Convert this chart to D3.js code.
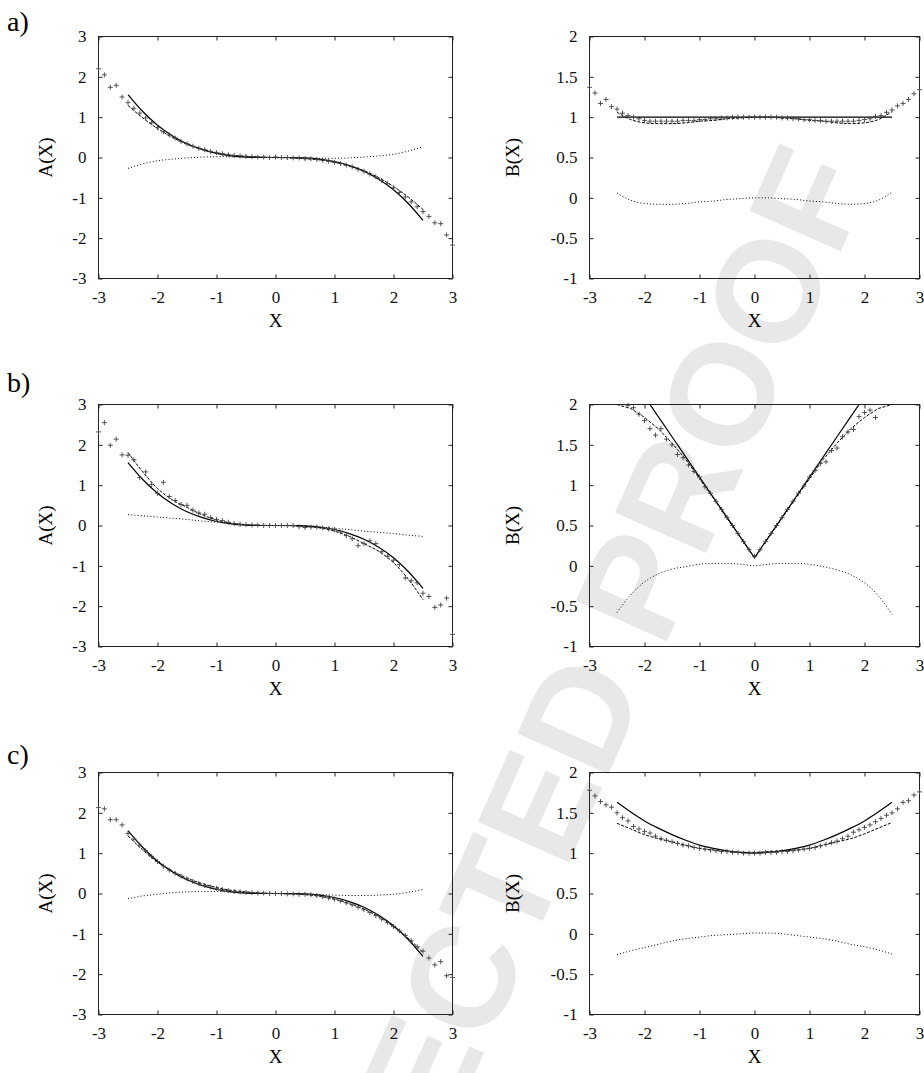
<!DOCTYPE html>
<html>
<head>
<meta charset="utf-8">
<script src="https://cdn.jsdelivr.net/npm/d3@7"></script>
<style>
  body { margin: 0; background: #fff; }
  svg { display: block; }
</style>
</head>
<body>
<svg id="chart" width="924" height="1073"></svg>
<script>
// x positions of the fitted curves and of the sampled points
var xFit = [-2.5, -2.25, -2, -1.75, -1.5, -1.25, -1, -0.75, -0.5, -0.25, 0,
            0.25, 0.5, 0.75, 1, 1.25, 1.5, 1.75, 2, 2.25, 2.5];
var xMarks = [-3, -2.9, -2.8, -2.7, -2.6, -2.5, -2.4, -2.3, -2.2, -2.1, -2,
              -1.9, -1.8, -1.7, -1.6, -1.5, -1.4, -1.3, -1.2, -1.1, -1,
              -0.9, -0.8, -0.7, -0.6, -0.5, -0.4, -0.3, -0.2, -0.1, 0,
              0.1, 0.2, 0.3, 0.4, 0.5, 0.6, 0.7, 0.8, 0.9, 1,
              1.1, 1.2, 1.3, 1.4, 1.5, 1.6, 1.7, 1.8, 1.9, 2,
              2.1, 2.2, 2.3, 2.4, 2.5, 2.6, 2.7, 2.8, 2.9, 3];

var xTicks = [-3, -2, -1, 0, 1, 2, 3];
var ticksA = [-3, -2, -1, 0, 1, 2, 3];
var ticksB = [-1, -0.5, 0, 0.5, 1, 1.5, 2];

// a) A(X)
var aA_marks = [2.20, 2.05, 1.74, 1.79, 1.50, 1.36, 1.22, 1.10, 0.98, 0.86, 0.74,
                0.64, 0.56, 0.48, 0.40, 0.34, 0.28, 0.23, 0.19, 0.15, 0.12,
                0.09, 0.07, 0.05, 0.04, 0.03, 0.02, 0.01, 0.01, 0.00, 0.01,
                0.00, 0.00, -0.01, -0.01, -0.03, -0.03, -0.05, -0.07, -0.09, -0.12,
                -0.15, -0.19, -0.23, -0.29, -0.34, -0.41, -0.48, -0.57, -0.65, -0.75,
                -0.87, -0.98, -1.10, -1.22, -1.34, -1.46, -1.62, -1.64, -1.92, -2.17];
var aA_solid = [1.56, 1.14, 0.80, 0.54, 0.34, 0.20, 0.10, 0.04, 0.01, 0.00, 0.00,
                0.00, -0.01, -0.04, -0.10, -0.20, -0.34, -0.54, -0.80, -1.14, -1.56];
var aA_dashed = [1.29, 0.98, 0.72, 0.50, 0.33, 0.21, 0.12, 0.06, 0.03, 0.01, 0.00,
                 -0.01, -0.03, -0.06, -0.12, -0.21, -0.33, -0.50, -0.72, -0.98, -1.29];
var aA_dotted = [-0.27, -0.16, -0.08, -0.04, -0.01, 0.01, 0.02, 0.02, 0.02, 0.01, 0.00,
                 -0.01, -0.02, -0.02, -0.02, -0.01, 0.01, 0.04, 0.08, 0.16, 0.27];

// a) B(X)
var aB_marks = [1.37, 1.30, 1.17, 1.22, 1.13, 1.10, 1.05, 1.02, 1.00, 0.98, 0.96,
                0.95, 0.95, 0.95, 0.95, 0.95, 0.95, 0.96, 0.96, 0.96, 0.97,
                0.97, 0.98, 0.98, 0.99, 0.99, 1.00, 1.00, 1.00, 1.00, 1.00,
                1.00, 1.00, 1.00, 1.00, 0.99, 0.99, 0.98, 0.98, 0.97, 0.97,
                0.96, 0.96, 0.95, 0.95, 0.95, 0.95, 0.95, 0.95, 0.96, 0.97,
                0.98, 1.01, 1.02, 1.06, 1.09, 1.14, 1.17, 1.22, 1.29, 1.34];
var aB_solid = [1, 1, 1, 1, 1, 1, 1, 1, 1, 1, 1, 1, 1, 1, 1, 1, 1, 1, 1, 1, 1];
var aB_dashed = [1.06, 0.97, 0.93, 0.92, 0.92, 0.93, 0.95, 0.96, 0.98, 0.99, 1.00,
                 1.00, 0.99, 0.98, 0.96, 0.95, 0.93, 0.92, 0.93, 0.97, 1.07];
var aB_dotted = [0.06, -0.03, -0.07, -0.08, -0.08, -0.07, -0.05, -0.04, -0.02, -0.01, 0.00,
                 0.00, -0.01, -0.02, -0.04, -0.05, -0.07, -0.08, -0.07, -0.03, 0.07];

// b) A(X)
var bA_marks = [2.32, 2.55, 1.99, 2.14, 1.75, 1.74, 1.63, 1.19, 1.33, 1.02, 0.80,
                1.07, 0.72, 0.62, 0.52, 0.50, 0.38, 0.31, 0.28, 0.20, 0.15,
                0.12, 0.08, 0.05, 0.03, 0.02, 0.01, 0.01, 0.00, 0.00, 0.00,
                0.00, 0.00, 0.00, -0.03, -0.05, -0.04, -0.04, -0.06, -0.08, -0.10,
                -0.16, -0.25, -0.33, -0.50, -0.45, -0.38, -0.45, -0.65, -0.76, -0.86,
                -0.97, -1.30, -1.37, -1.42, -1.68, -1.76, -2.03, -1.97, -1.80, -2.70];
var bA_solid = [1.56, 1.14, 0.80, 0.54, 0.34, 0.20, 0.10, 0.04, 0.01, 0.00, 0.00,
                0.00, -0.01, -0.04, -0.10, -0.20, -0.34, -0.54, -0.80, -1.14, -1.56];
var bA_dashed = [1.81, 1.33, 0.92, 0.64, 0.45, 0.27, 0.14, 0.06, 0.02, 0.00, 0.00,
                 0.00, -0.02, -0.06, -0.14, -0.27, -0.45, -0.64, -0.92, -1.33, -1.84];
var bA_dotted = [0.27, 0.24, 0.21, 0.18, 0.15, 0.11, 0.08, 0.05, 0.02, 0.01, 0.00,
                 -0.01, -0.02, -0.04, -0.07, -0.10, -0.14, -0.17, -0.20, -0.24, -0.27];

// b) B(X)
var bB_marks = [2.35, 2.30, 2.22, 2.15, 2.10, 2.05, 2.02, 1.99, 1.96, 1.88, 1.80,
                1.70, 1.62, 1.70, 1.57, 1.50, 1.38, 1.34, 1.25, 1.17, 1.10,
                0.98, 0.90, 0.80, 0.70, 0.60, 0.50, 0.40, 0.30, 0.20, 0.12,
                0.20, 0.30, 0.40, 0.50, 0.60, 0.70, 0.80, 0.90, 0.99, 1.10,
                1.18, 1.27, 1.29, 1.43, 1.46, 1.60, 1.66, 1.69, 1.85, 1.90,
                1.93, 1.84, 2.02, 2.05, 2.08, 2.12, 2.16, 2.20, 2.25, 2.30];
var bB_solid = [2.60, 2.35, 2.10, 1.85, 1.60, 1.35, 1.10, 0.85, 0.60, 0.35, 0.10,
                0.35, 0.60, 0.85, 1.10, 1.35, 1.60, 1.85, 2.10, 2.35, 2.60];
var bB_dashed = [2.00, 1.95, 1.84, 1.70, 1.52, 1.32, 1.08, 0.84, 0.59, 0.35, 0.10,
                 0.35, 0.59, 0.84, 1.08, 1.32, 1.52, 1.70, 1.84, 1.95, 2.00];
var bB_dotted = [-0.58, -0.36, -0.20, -0.10, -0.04, -0.01, 0.02, 0.03, 0.03, 0.02, 0.00,
                 0.02, 0.03, 0.03, 0.02, -0.01, -0.05, -0.11, -0.21, -0.37, -0.60];

// c) A(X)
var cA_marks = [2.13, 2.10, 1.83, 1.83, 1.70, 1.49, 1.35, 1.20, 1.06, 0.92, 0.79,
                0.68, 0.58, 0.50, 0.43, 0.36, 0.30, 0.25, 0.20, 0.16, 0.13,
                0.10, 0.07, 0.05, 0.04, 0.03, 0.02, 0.01, 0.01, 0.00, 0.00,
                0.00, -0.01, -0.01, -0.02, -0.02, -0.03, -0.05, -0.08, -0.11, -0.14,
                -0.18, -0.23, -0.28, -0.34, -0.40, -0.47, -0.55, -0.63, -0.72, -0.82,
                -0.93, -1.04, -1.17, -1.32, -1.43, -1.60, -1.77, -1.69, -2.04, -2.08];
var cA_solid = [1.56, 1.14, 0.80, 0.54, 0.34, 0.20, 0.10, 0.04, 0.01, 0.00, 0.00,
                0.00, -0.01, -0.04, -0.10, -0.20, -0.34, -0.54, -0.80, -1.14, -1.56];
var cA_dashed = [1.43, 1.08, 0.78, 0.56, 0.38, 0.25, 0.15, 0.08, 0.04, 0.01, 0.00,
                 -0.01, -0.03, -0.07, -0.14, -0.25, -0.39, -0.58, -0.82, -1.11, -1.46];
var cA_dotted = [-0.13, -0.06, -0.02, 0.02, 0.04, 0.05, 0.05, 0.04, 0.03, 0.01, 0.00,
                 -0.01, -0.02, -0.03, -0.04, -0.05, -0.05, -0.04, -0.02, 0.03, 0.10];

// c) B(X)
var cB_marks = [1.78, 1.71, 1.64, 1.60, 1.57, 1.50, 1.44, 1.40, 1.33, 1.30, 1.27,
                1.25, 1.21, 1.18, 1.16, 1.14, 1.12, 1.10, 1.09, 1.07, 1.06,
                1.05, 1.04, 1.03, 1.02, 1.02, 1.01, 1.01, 1.00, 1.00, 1.00,
                1.00, 1.01, 1.01, 1.01, 1.02, 1.02, 1.03, 1.04, 1.05, 1.06,
                1.07, 1.09, 1.11, 1.13, 1.15, 1.18, 1.21, 1.26, 1.29, 1.32,
                1.35, 1.39, 1.43, 1.47, 1.50, 1.55, 1.63, 1.65, 1.72, 1.76];
var cB_solid = [1.63, 1.51, 1.40, 1.31, 1.23, 1.16, 1.10, 1.06, 1.03, 1.01, 1.00,
                1.01, 1.03, 1.06, 1.10, 1.16, 1.23, 1.31, 1.40, 1.51, 1.63];
var cB_dashed = [1.37, 1.30, 1.23, 1.18, 1.14, 1.10, 1.06, 1.04, 1.02, 1.01, 1.01,
                 1.02, 1.03, 1.04, 1.06, 1.10, 1.14, 1.18, 1.24, 1.31, 1.38];
var cB_dotted = [-0.26, -0.21, -0.17, -0.13, -0.09, -0.06, -0.04, -0.02, -0.01, 0.00, 0.01,
                 0.01, 0.00, -0.02, -0.04, -0.06, -0.09, -0.13, -0.16, -0.20, -0.25];

var panels = [
  { tag: "a)", row: 0, col: 0, ylab: "A(X)", yDomain: [-3, 3], yTicks: ticksA, marks: aA_marks, solid: aA_solid, dashed: aA_dashed, dotted: aA_dotted },
  { tag: null, row: 0, col: 1, ylab: "B(X)", yDomain: [-1, 2], yTicks: ticksB, marks: aB_marks, solid: aB_solid, dashed: aB_dashed, dotted: aB_dotted },
  { tag: "b)", row: 1, col: 0, ylab: "A(X)", yDomain: [-3, 3], yTicks: ticksA, marks: bA_marks, solid: bA_solid, dashed: bA_dashed, dotted: bA_dotted },
  { tag: null, row: 1, col: 1, ylab: "B(X)", yDomain: [-1, 2], yTicks: ticksB, marks: bB_marks, solid: bB_solid, dashed: bB_dashed, dotted: bB_dotted, sharp: true },
  { tag: "c)", row: 2, col: 0, ylab: "A(X)", yDomain: [-3, 3], yTicks: ticksA, marks: cA_marks, solid: cA_solid, dashed: cA_dashed, dotted: cA_dotted },
  { tag: null, row: 2, col: 1, ylab: "B(X)", yDomain: [-1, 2], yTicks: ticksB, marks: cB_marks, solid: cB_solid, dashed: cB_dashed, dotted: cB_dotted }
];

// layout
var colX = [[98.5, 452.5], [589.5, 919.5]];
var rowY = [36.5, 404.5, 772.5];
var plotH = 242;
var tagY = [31, 392, 764];
var ylabX = [45, 512];
var serif = "'Liberation Serif', 'Times New Roman', serif";

var svg = d3.select("#chart");

// "UNCORRECTED PROOF" watermark behind the plots
var wm = svg.append("g")
  .attr("fill", "#e8e8e8")
  .style("font-family", "'Liberation Sans', Arial, sans-serif")
  .style("font-weight", "bold")
  .style("font-size", "145px");
wm.append("text")
  .attr("transform", "translate(663,650) rotate(-66)")
  .text("PROOF");
wm.append("text")
  .attr("transform", "translate(647,687) rotate(-66)")
  .attr("text-anchor", "end")
  .text("UNCORRECTED");

function fmt(v) { return String(v); }

panels.forEach(function(p, i) {
  var x0 = colX[p.col][0], x1 = colX[p.col][1];
  var y0 = rowY[p.row], y1 = y0 + plotH;

  var x = d3.scaleLinear().domain([-3, 3]).range([x0, x1]);
  var y = d3.scaleLinear().domain(p.yDomain).range([y1, y0]);

  var g = svg.append("g");

  svg.append("clipPath").attr("id", "clip" + i)
    .append("rect")
    .attr("x", x0).attr("y", y0)
    .attr("width", x1 - x0).attr("height", y1 - y0);

  // axes, ticks pointing inward on all four sides
  var bottom = g.append("g")
    .attr("transform", "translate(0," + y1 + ")")
    .call(d3.axisBottom(x).tickValues(xTicks).tickFormat(fmt)
      .tickSizeInner(-4).tickSizeOuter(0).tickPadding(12));
  var left = g.append("g")
    .attr("transform", "translate(" + x0 + ",0)")
    .call(d3.axisLeft(y).tickValues(p.yTicks).tickFormat(fmt)
      .tickSizeInner(-4).tickSizeOuter(0).tickPadding(12));
  var top = g.append("g")
    .attr("transform", "translate(0," + y0 + ")")
    .call(d3.axisTop(x).tickValues(xTicks).tickFormat("")
      .tickSizeInner(-4).tickSizeOuter(0));
  var right = g.append("g")
    .attr("transform", "translate(" + x1 + ",0)")
    .call(d3.axisRight(y).tickValues(p.yTicks).tickFormat("")
      .tickSizeInner(-4).tickSizeOuter(0));

  [bottom, left, top, right].forEach(function(a) {
    a.select(".domain").remove();
    a.selectAll(".tick line").attr("stroke", "#222");
    a.attr("font-family", serif).attr("font-size", 17);
    a.selectAll(".tick text").attr("fill", "#111");
  });

  g.append("rect")
    .attr("x", x0).attr("y", y0)
    .attr("width", x1 - x0).attr("height", y1 - y0)
    .attr("fill", "none").attr("stroke", "#222").attr("stroke-width", 1);

  // axis titles
  g.append("text")
    .attr("x", (x0 + x1) / 2).attr("y", y1 + 48)
    .attr("text-anchor", "middle")
    .style("font-family", serif).style("font-size", "19px")
    .text("X");
  g.append("text")
    .attr("transform", "translate(" + ylabX[p.col] + "," + (y0 + y1) / 2 + ") rotate(-90)")
    .attr("text-anchor", "middle").attr("dy", "0.35em")
    .style("font-family", serif).style("font-size", "19px")
    .text(p.ylab);

  if (p.tag) {
    g.append("text")
      .attr("x", 7).attr("y", tagY[p.row])
      .style("font-family", serif).style("font-size", "28px")
      .text(p.tag);
  }

  // curves
  var smooth = d3.line()
    .x(function(d) { return x(d[0]); })
    .y(function(d) { return y(d[1]); })
    .curve(d3.curveMonotoneX);
  var straight = d3.line()
    .x(function(d) { return x(d[0]); })
    .y(function(d) { return y(d[1]); });

  var pg = g.append("g").attr("clip-path", "url(#clip" + i + ")");

  pg.append("path")
    .datum(d3.zip(xFit, p.dotted))
    .attr("d", smooth)
    .attr("fill", "none").attr("stroke", "#000")
    .attr("stroke-width", 1).attr("stroke-dasharray", "1,2.2");

  pg.append("path")
    .datum(d3.zip(xFit, p.dashed))
    .attr("d", p.sharp ? straight : smooth)
    .attr("fill", "none").attr("stroke", "#000")
    .attr("stroke-width", 1).attr("stroke-dasharray", "3,1.5");

  pg.append("path")
    .datum(d3.zip(xFit, p.solid))
    .attr("d", p.sharp ? straight : smooth)
    .attr("fill", "none").attr("stroke", "#000")
    .attr("stroke-width", 1.2);

  // sampled points, drawn only inside the y range
  var pts = d3.zip(xMarks, p.marks).filter(function(d) {
    return d[1] >= p.yDomain[0] && d[1] <= p.yDomain[1];
  });
  g.append("g").selectAll("path")
    .data(pts)
    .join("path")
    .attr("transform", function(d) { return "translate(" + x(d[0]) + "," + y(d[1]) + ")"; })
    .attr("d", "M-2.5,0H2.5M0,-2.5V2.5")
    .attr("fill", "none")
    .attr("stroke", "#444")
    .attr("stroke-width", 0.9);
});
</script>
</body>
</html>
